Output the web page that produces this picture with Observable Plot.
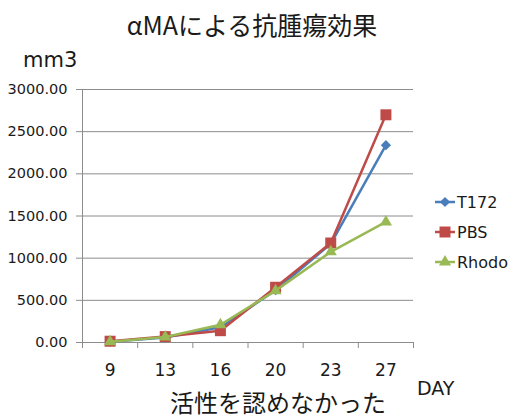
<!DOCTYPE html>
<html>
<head>
<meta charset="utf-8">
<script src="https://cdn.jsdelivr.net/npm/d3@7"></script>
<script src="https://cdn.jsdelivr.net/npm/@observablehq/plot@0.6"></script>
<style>
  html, body { margin: 0; padding: 0; background: #fff; }
  #chart { width: 516px; height: 418px; }
</style>
</head>
<body>
<div id="chart"></div>
<script>
// ---- data ----
const days = ["9", "13", "16", "20", "23", "27"];
const t172 = [10, 60, 180, 620, 1170, 2340];
const pbs = [15, 70, 140, 655, 1180, 2700];
const rhodo = [10, 65, 210, 615, 1075, 1430];
const yTicks = [0, 500, 1000, 1500, 2000, 2500, 3000];
const seriesNames = ["T172", "PBS", "Rhodo"];
const seriesColors = ["#4A7EBB", "#BE4B48", "#98B954"];
const seriesSymbols = ["diamond2", "square", "triangle"];
const seriesRadius = [4.6, 6.2, 4.5];
const titleText = "αMAによる抗腫瘍効果";
const yUnit = "mm3";
const xUnit = "DAY";
const captionText = "活性を認めなかった";

const seriesValues = [t172, pbs, rhodo];
const rows = [];
seriesNames.forEach((name, s) => {
  seriesValues[s].forEach((v, i) => rows.push({series: name, pos: i + 0.5, value: v}));
});
const bandEdges = d3.range(days.length + 1);
const bandCenters = days.map((d, i) => i + 0.5);

const lineMarks = [];
seriesNames.forEach((name, s) => {
  const data = rows.filter(r => r.series === name);
  lineMarks.push(Plot.line(data, {x: "pos", y: "value", stroke: seriesColors[s], strokeWidth: 2.5}));
  lineMarks.push(Plot.dot(data, {x: "pos", y: "value", fill: seriesColors[s], stroke: "none",
    symbol: () => seriesSymbols[s], r: seriesRadius[s]}));
});

const plot = Plot.plot({
  width: 516,
  height: 418,
  marginLeft: 82,
  marginRight: 103,
  marginTop: 89,
  marginBottom: 76,
  style: {fontFamily: "DejaVu Sans", fontSize: "14px", background: "#fff", color: "#1a1a1a"},
  x: {type: "linear", domain: [0, days.length]},
  y: {domain: [0, 3000]},
  marks: [
    Plot.gridY(yTicks.filter(t => t > 0), {stroke: "#8c8c8c", strokeOpacity: 1, strokeWidth: 1}),
    Plot.ruleX([0], {stroke: "#8c8c8c", strokeWidth: 1}),
    Plot.ruleY([0], {stroke: "#8c8c8c", strokeWidth: 1}),
    Plot.axisY({ticks: yTicks, tickFormat: d3.format(".2f"), tickSize: 6, tickPadding: 9,
      stroke: "#8c8c8c", fill: "#1a1a1a", fontSize: 14.5, label: null}),
    Plot.axisX({ticks: bandEdges, tickFormat: () => "", tickSize: 6, stroke: "#8c8c8c", label: null}),
    Plot.axisX({ticks: bandCenters, tickFormat: p => days[Math.round(p - 0.5)], tickSize: 0,
      tickPadding: 21, fill: "#1a1a1a", fontSize: 17, label: null}),
    ...lineMarks
  ]
});

document.getElementById("chart").appendChild(plot);
const svg = d3.select(plot);

// titles and axis unit labels
svg.append("text").attr("x", 252).attr("y", 35).attr("text-anchor", "middle")
  .attr("font-family", "Noto Sans CJK JP").attr("font-size", 25).attr("fill", "#1a1a1a").text(titleText);
svg.append("text").attr("x", 23).attr("y", 67).attr("text-anchor", "start")
  .attr("font-family", "DejaVu Sans").attr("font-size", 21).attr("fill", "#1a1a1a").text(yUnit);
svg.append("text").attr("x", 417).attr("y", 395).attr("text-anchor", "start")
  .attr("font-family", "DejaVu Sans").attr("font-size", 19).attr("fill", "#1a1a1a").text(xUnit);
svg.append("text").attr("x", 278).attr("y", 412).attr("text-anchor", "middle")
  .attr("font-family", "Noto Sans CJK JP").attr("font-size", 24).attr("fill", "#1a1a1a").text(captionText);

// legend
const legendSymbols = [d3.symbolDiamond2, d3.symbolSquare, d3.symbolTriangle];
const leg = svg.append("g").attr("transform", "translate(435,202)");
seriesNames.forEach((name, s) => {
  const g = leg.append("g").attr("transform", `translate(0,${s * 30})`);
  g.append("line").attr("x1", 0).attr("x2", 20).attr("y1", 0).attr("y2", 0)
    .attr("stroke", seriesColors[s]).attr("stroke-width", 2.5);
  const size = Math.PI * Math.pow(seriesRadius[s], 2);
  g.append("path").attr("transform", "translate(10,0)").attr("d", d3.symbol(legendSymbols[s], size)())
    .attr("fill", seriesColors[s]);
  g.append("text").attr("x", 22).attr("y", 0).attr("dy", "0.35em").attr("text-anchor", "start")
    .attr("font-family", "DejaVu Sans").attr("font-size", 16).attr("fill", "#1a1a1a").text(name);
});
</script>
</body>
</html>
